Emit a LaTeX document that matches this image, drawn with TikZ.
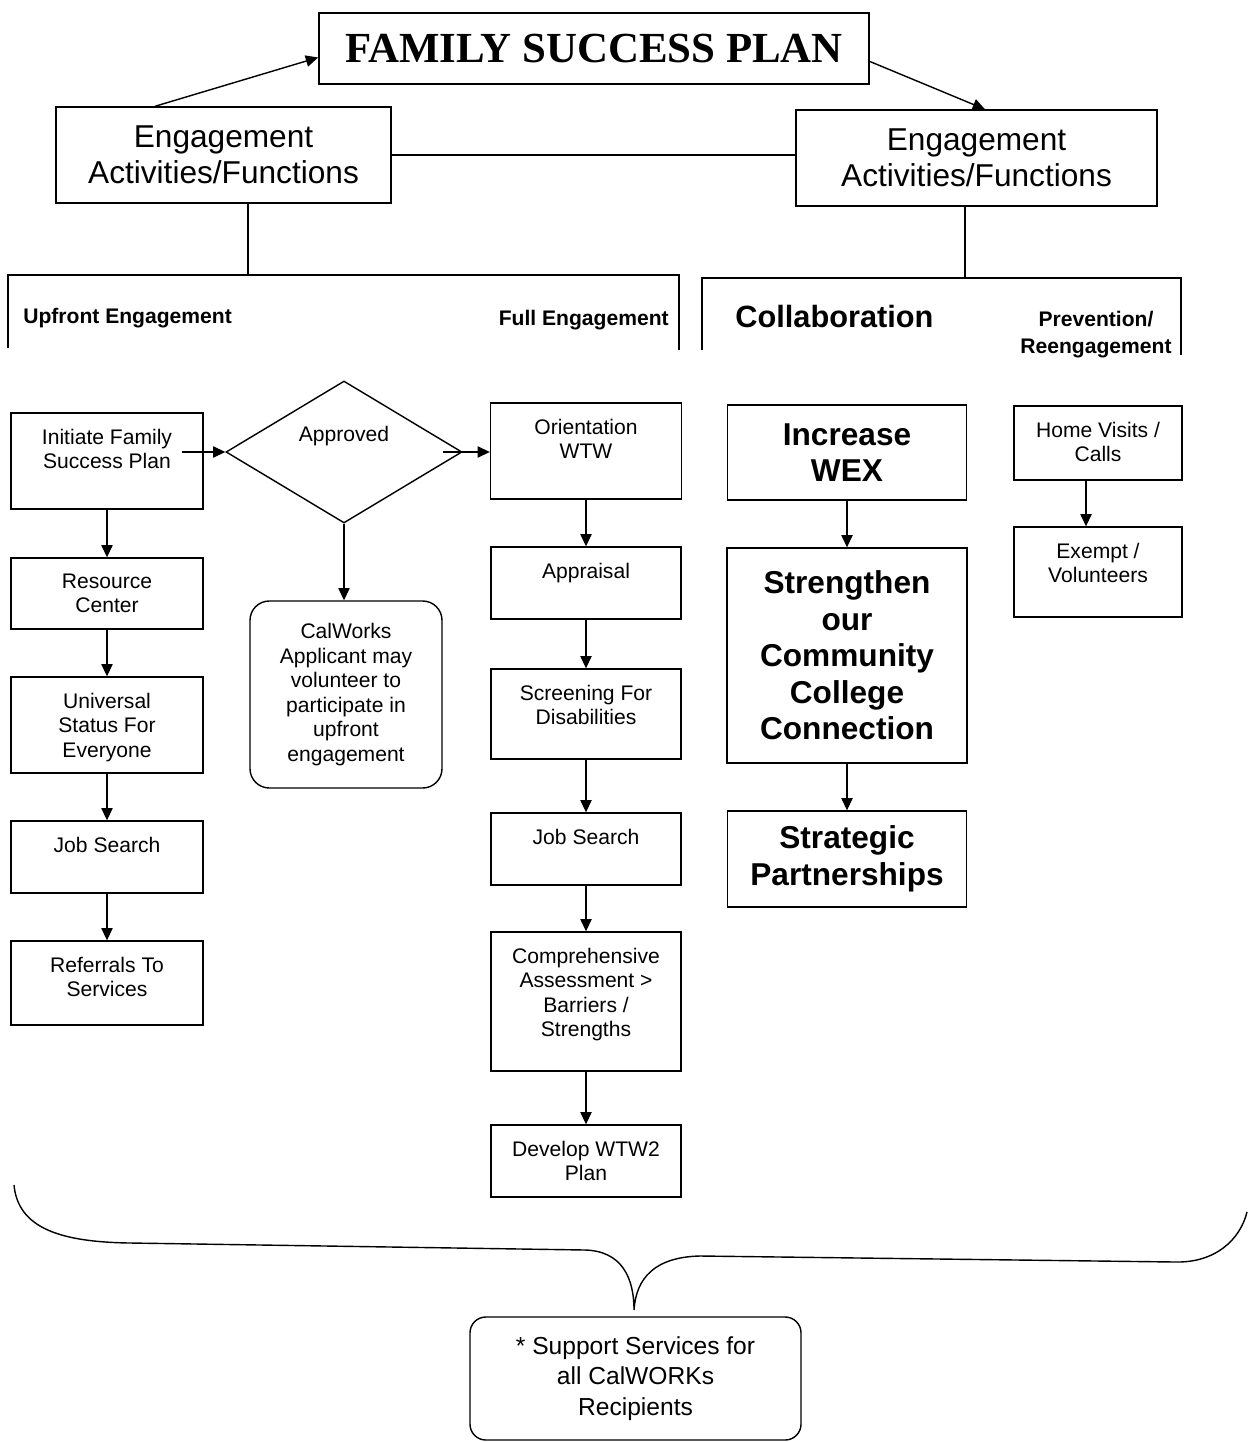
\documentclass[tikz,border=0pt]{standalone}
\usepackage{fontspec}
\setmainfont{Liberation Sans}
\newfontfamily\titlefont{Liberation Serif}
\usetikzlibrary{arrows.meta,shapes.geometric}
\newlength\px
\setlength\px{0.02cm}
\newcommand\tb[3]{\begin{minipage}[c][#2\px][t]{#1\px}\centering\vspace*{9pt}#3\end{minipage}}

\begin{document}
\begin{tikzpicture}[x=0.02cm,y=-0.02cm,
  box/.style={draw,line width=0.8pt,inner sep=0pt},
  sbox/.style={box,font=\fontsize{12}{14}\selectfont},
  bbox/.style={box,align=center,font=\fontsize{18}{20.8}\selectfont\bfseries},
  ebox/.style={box,align=center,font=\fontsize{18}{20.5}\selectfont},
  head/.style={inner sep=0pt,align=center,font=\fontsize{12}{15.4}\selectfont\bfseries},
  arr/.style={-{Triangle[length=7pt,width=6.5pt]},line width=0.6pt},
  thin/.style={line width=0.6pt}]
\useasboundingbox (0,0) rectangle (1247,1442);
\node[box,line width=1pt,minimum width=550\px,minimum height=71\px,font=\titlefont\fontsize{24.4}{28}\selectfont\bfseries] (1) at (594,48.5) {FAMILY SUCCESS PLAN};
\node[ebox,minimum width=335\px,minimum height=96\px] (2) at (223.5,155) {Engagement\\Activities/Functions};
\node[ebox,minimum width=361\px,minimum height=96\px] (3) at (976.5,158) {Engagement\\Activities/Functions};
\node[head,anchor=west] (4) at (23,318) {Upfront Engagement};
\node[head,anchor=east] (5) at (669,320) {Full Engagement};
\node[head,anchor=west,font=\fontsize{17.5}{20}\selectfont\bfseries] (6) at (735,317) {Collaboration};
\node[head] (7) at (1096,334.5) {Prevention/\\Reengagement};
\node[sbox] (8) at (107,461) {\tb{192}{96}{Initiate Family\\Success Plan}};
\node[sbox] (9) at (107,593.5) {\tb{192}{71}{Resource\\Center}};
\node[sbox] (10) at (107,725) {\tb{192}{96}{Universal\\Status For\\Everyone}};
\node[sbox] (11) at (107,857) {\tb{192}{72}{Job Search}};
\node[sbox] (12) at (107,983) {\tb{192}{84}{Referrals To\\Services}};
\node[diamond,draw,line width=0.8pt,inner sep=0pt,minimum width=236\px,minimum height=142\px,text height=8pt,text depth=20pt,font=\fontsize{12}{14}\selectfont] (13) at (344,452) {Approved};
\node[sbox] (14) at (586,451) {\tb{191}{96}{Orientation\\WTW}};
\node[box,rounded corners=11pt,minimum width=192\px,minimum height=187\px,align=center,font=\fontsize{12}{14}\selectfont] (15) at (346,694.5) {CalWorks\\Applicant may\\volunteer to\\participate in\\upfront\\engagement};
\node[sbox] (16) at (586,583) {\tb{190}{72}{Appraisal}};
\node[sbox] (17) at (586,714) {\tb{190}{90}{Screening For\\Disabilities}};
\node[sbox] (18) at (586,849) {\tb{190}{72}{Job Search}};
\node[sbox] (19) at (586,1001.5) {\tb{190}{139}{Comprehensive\\Assessment >\\Barriers /\\Strengths}};
\node[sbox] (20) at (586,1161) {\tb{190}{72}{Develop WTW2\\Plan}};
\node[bbox,minimum width=239\px,minimum height=95\px] (21) at (847,452.5) {Increase\\WEX};
\node[bbox,minimum width=240\px,minimum height=215\px] (22) at (847,655.5) {Strengthen\\our\\Community\\College\\Connection};
\node[bbox,minimum width=239\px,minimum height=96\px] (23) at (847,859) {Strategic\\Partnerships};
\node[sbox] (24) at (1098,443) {\tb{168}{74}{Home Visits /\\Calls}};
\node[sbox] (25) at (1098,572) {\tb{168}{90}{Exempt /\\Volunteers}};
\node[box,rounded corners=9pt,minimum width=331\px,minimum height=123\px,align=center,font=\fontsize{14}{17.4}\selectfont] (26) at (635.5,1378.5) {* Support Services for\\all CalWORKs\\Recipients};
\coordinate (a) at (248,275);
\coordinate (b) at (965,278);
\draw[line width=0.8pt] (8,348) -- (8,275) -- (679,275) -- (679,350);
\draw[line width=0.8pt] (702,350) -- (702,278) -- (1181,278) -- (1181,355);
\draw[thin] (2.south -| a) -- (a);
\draw[thin] (3.south -| b) -- (b);
\draw[thin] (2.east) -- (2.east -| 3.west);
\draw[arr,line width=0.8pt] ([xshift=-68.5\px]2.north) -- ([yshift=-9\px]1.west);
\draw[arr,line width=0.8pt] ([yshift=-13\px]1.east) -- ([xshift=8.5\px]3.north);
\draw[arr] ([xshift=-22\px]8.east |- 13.west) -- (13.west);
\draw[arr] ([xshift=-20\px]13.east) -- (13.east -| 14.west);
\draw[arr] (13.south) -- (13.south |- 15.north);
\path[draw,arr](8) edge node {} (9);
\path[draw,arr](9) edge node {} (10);
\path[draw,arr](10) edge node {} (11);
\path[draw,arr](11) edge node {} (12);
\path[draw,arr](14) edge node {} (16);
\path[draw,arr](16) edge node {} (17);
\path[draw,arr](17) edge node {} (18);
\path[draw,arr](18) edge node {} (19);
\path[draw,arr](19) edge node {} (20);
\path[draw,arr](21) edge node {} (22);
\path[draw,arr](22) edge node {} (23);
\draw[arr] ([xshift=-12\px]24.south) -- ([xshift=-12\px]25.north);
\draw[line width=0.8pt] (14,1185) .. controls (18,1228) and (60,1242) .. (130,1243) -- (585,1250) .. controls (622,1251) and (634,1278) .. (634,1310) .. controls (636,1278) and (655,1257) .. (700,1256) -- (1175,1262) .. controls (1215,1263) and (1240,1240) .. (1247,1212);
\end{tikzpicture}
\end{document}
